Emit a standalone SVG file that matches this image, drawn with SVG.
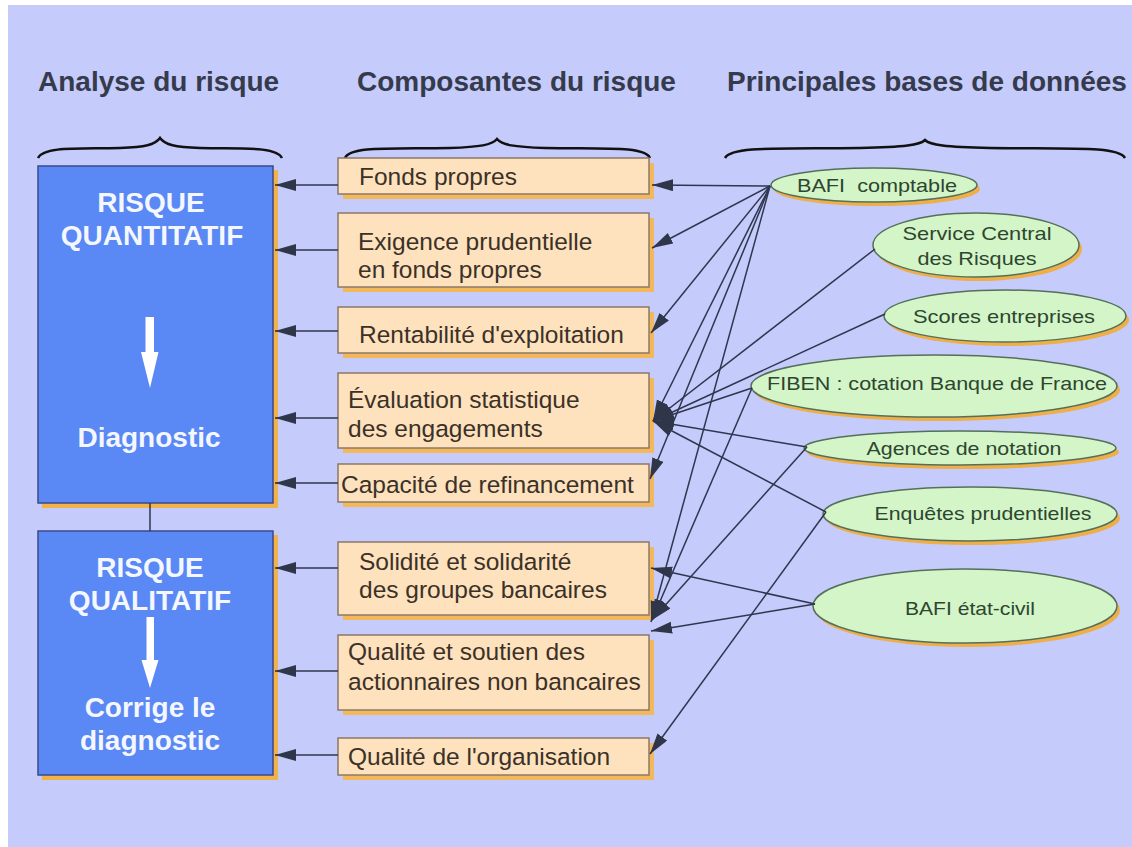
<svg xmlns="http://www.w3.org/2000/svg" width="1132" height="847" viewBox="0 0 1132 847">
<defs>
<marker id="ah" markerWidth="22" markerHeight="14" refX="21" refY="6" orient="auto" markerUnits="userSpaceOnUse">
<path d="M0,0 L21,6 L0,12 Z" fill="#30364a"/>
</marker>
<style>
.hdr{font-family:"Liberation Sans",Arial,sans-serif;font-weight:bold;font-size:28px;fill:#353b4d}
.brace{fill:none;stroke:#111;stroke-width:2.5}
.blue{fill:#5a88f4;stroke:#3b4a8a;stroke-width:1.5}
.bshadow{fill:#f2b24a}
.btxt{font-family:"Liberation Sans",Arial,sans-serif;font-weight:bold;font-size:28px;fill:#f4f7ff;text-anchor:middle}
.warrow{fill:#ffffff}
.mbox{fill:#fde2bd;stroke:#8d7868;stroke-width:1.5}
.mshadow{fill:#f2b85a}
.mtxt{font-family:"Liberation Sans",Arial,sans-serif;font-size:24.5px;fill:#3b3128}
.ell{fill:#d3f5c8;stroke:#55705a;stroke-width:1.5}
.eshadow{fill:#eeae48}
.etxt{font-family:"Liberation Sans",Arial,sans-serif;font-size:19px;fill:#2e452f;text-anchor:middle}
.conn{stroke:#30364f;stroke-width:1.5;fill:none}
.conn-a{stroke:#30364f;stroke-width:1.5;fill:none;marker-end:url(#ah)}
</style>
</defs>
<rect x="0" y="0" width="1132" height="847" fill="#ffffff"/>
<rect x="8" y="5" width="1124" height="842" fill="#c5cbfa"/>

<g id="headers">
<text class="hdr" x="38" y="91">Analyse du risque</text>
<text class="hdr" x="357" y="91">Composantes du risque</text>
<text class="hdr" x="727" y="91">Principales bases de données</text>
</g>

<g id="braces">
<path class="brace" d="M38,158 C44,146 80,149 120,148 C145,147 155,145 160,138 C165,145 175,147 200,148 C240,149 276,146 282,158"/>
<path class="brace" d="M345,158 C351,146 390,149 450,148 C480,147 492,145 497,139 C502,145 514,147 545,148 C605,149 644,146 650,158"/>
<path class="brace" d="M725,158 C732,146 780,149 860,148 C905,147 920,145 925,140 C930,145 945,147 990,148 C1070,149 1118,146 1125,158"/>
</g>

<g id="risque-quantitatif">
<rect class="bshadow" x="42" y="170" width="236" height="338"/>
<rect class="blue" x="38" y="166" width="235" height="337"/>
<text class="btxt" x="151" y="212">RISQUE</text>
<text class="btxt" x="152" y="245">QUANTITATIF</text>
<path class="warrow" d="M145.5,317 L154,317 L154,352 L158.5,352 L150,388 L141,352 L145.5,352 Z"/>
<text class="btxt" x="149" y="447">Diagnostic</text>
</g>

<g id="risque-qualitatif">
<rect class="bshadow" x="42" y="535" width="236" height="245"/>
<rect class="blue" x="38" y="531" width="235" height="244"/>
<text class="btxt" x="150" y="577">RISQUE</text>
<text class="btxt" x="150" y="610">QUALITATIF</text>
<path class="warrow" d="M146.5,617 L154,617 L154,660 L158.5,660 L150,688 L141.5,660 L146.5,660 Z"/>
<text class="btxt" x="150" y="717">Corrige le</text>
<text class="btxt" x="150" y="750">diagnostic</text>
</g>

<g id="n-fonds-propres">
<rect class="mshadow" x="343" y="163" width="311" height="36"/>
<rect class="mbox" x="338" y="158" width="311" height="36"/>
<text class="mtxt" x="359" y="185">Fonds propres</text>
</g>
<g id="n-exigence">
<rect class="mshadow" x="343" y="218" width="311" height="74"/>
<rect class="mbox" x="338" y="213" width="311" height="74"/>
<text class="mtxt" x="358" y="250">Exigence prudentielle</text>
<text class="mtxt" x="358" y="278">en fonds propres</text>
</g>
<g id="n-rentabilite">
<rect class="mshadow" x="343" y="312" width="311" height="46"/>
<rect class="mbox" x="338" y="307" width="311" height="46"/>
<text class="mtxt" x="359" y="343">Rentabilité d'exploitation</text>
</g>
<g id="n-evaluation">
<rect class="mshadow" x="343" y="378" width="311" height="75"/>
<rect class="mbox" x="338" y="373" width="311" height="75"/>
<text class="mtxt" x="348" y="408">Évaluation statistique</text>
<text class="mtxt" x="348" y="437">des engagements</text>
</g>
<g id="n-capacite">
<rect class="mshadow" x="343" y="469" width="311" height="38"/>
<rect class="mbox" x="338" y="464" width="311" height="38"/>
<text class="mtxt" x="341" y="493">Capacité de refinancement</text>
</g>
<g id="n-solidite">
<rect class="mshadow" x="343" y="547" width="311" height="73"/>
<rect class="mbox" x="338" y="542" width="311" height="73"/>
<text class="mtxt" x="359" y="570">Solidité et solidarité</text>
<text class="mtxt" x="359" y="598">des groupes bancaires</text>
</g>
<g id="n-qualite-soutien">
<rect class="mshadow" x="343" y="640" width="311" height="75"/>
<rect class="mbox" x="338" y="635" width="311" height="75"/>
<text class="mtxt" x="348" y="660">Qualité et soutien des</text>
<text class="mtxt" x="348" y="690">actionnaires non bancaires</text>
</g>
<g id="n-qualite-org">
<rect class="mshadow" x="343" y="743" width="311" height="37"/>
<rect class="mbox" x="338" y="738" width="311" height="37"/>
<text class="mtxt" x="348" y="765">Qualité de l'organisation</text>
</g>

<g id="e-bafi-comptable">
<ellipse class="eshadow" cx="877" cy="189" rx="103" ry="17"/>
<ellipse class="ell" cx="874" cy="185" rx="103" ry="17"/>
<text class="etxt" x="877" y="192" textLength="160" lengthAdjust="spacingAndGlyphs" xml:space="preserve">BAFI  comptable</text>
</g>
<g id="e-service-central">
<ellipse class="eshadow" cx="979" cy="249" rx="103" ry="32"/>
<ellipse class="ell" cx="976" cy="245" rx="103" ry="32"/>
<text class="etxt" x="977" y="240" textLength="149" lengthAdjust="spacingAndGlyphs">Service Central</text>
<text class="etxt" x="977" y="265" textLength="119" lengthAdjust="spacingAndGlyphs">des Risques</text>
</g>
<g id="e-scores">
<ellipse class="eshadow" cx="1008" cy="320" rx="121" ry="26"/>
<ellipse class="ell" cx="1005" cy="316" rx="121" ry="26"/>
<text class="etxt" x="1004" y="323" textLength="182" lengthAdjust="spacingAndGlyphs">Scores entreprises</text>
</g>
<g id="e-fiben">
<ellipse class="eshadow" cx="937" cy="390" rx="183" ry="31"/>
<ellipse class="ell" cx="934" cy="386" rx="183" ry="31"/>
<text class="etxt" x="937" y="390" textLength="340" lengthAdjust="spacingAndGlyphs">FIBEN : cotation Banque de France</text>
</g>
<g id="e-agences">
<ellipse class="eshadow" cx="963" cy="452" rx="156" ry="17"/>
<ellipse class="ell" cx="960" cy="448" rx="156" ry="17"/>
<text class="etxt" x="964" y="455" textLength="195" lengthAdjust="spacingAndGlyphs">Agences de notation</text>
</g>
<g id="e-enquetes">
<ellipse class="eshadow" cx="973" cy="518" rx="147" ry="27"/>
<ellipse class="ell" cx="970" cy="514" rx="147" ry="27"/>
<text class="etxt" x="983" y="520" textLength="217" lengthAdjust="spacingAndGlyphs">Enquêtes prudentielles</text>
</g>
<g id="e-bafi-etat-civil">
<ellipse class="eshadow" cx="968" cy="610" rx="152" ry="37"/>
<ellipse class="ell" cx="965" cy="606" rx="152" ry="37"/>
<text class="etxt" x="970" y="615" textLength="130" lengthAdjust="spacingAndGlyphs">BAFI état-civil</text>
</g>

<g id="connectors">
<line class="conn" x1="150" y1="503" x2="150" y2="531"/>
<line class="conn-a" x1="338" y1="185" x2="275" y2="185"/>
<line class="conn-a" x1="338" y1="250" x2="275" y2="250"/>
<line class="conn-a" x1="338" y1="331" x2="275" y2="331"/>
<line class="conn-a" x1="338" y1="418" x2="275" y2="418"/>
<line class="conn-a" x1="338" y1="483" x2="275" y2="483"/>
<line class="conn-a" x1="338" y1="568" x2="275" y2="568"/>
<line class="conn-a" x1="338" y1="671" x2="275" y2="671"/>
<line class="conn-a" x1="338" y1="755" x2="275" y2="755"/>

<line class="conn-a" x1="770" y1="186" x2="652" y2="185"/>
<line class="conn-a" x1="770" y1="186" x2="652" y2="248"/>
<line class="conn-a" x1="770" y1="186" x2="651" y2="333"/>
<line class="conn-a" x1="770" y1="186" x2="653" y2="421"/>
<line class="conn-a" x1="770" y1="186" x2="650" y2="479"/>
<line class="conn-a" x1="770" y1="186" x2="651" y2="622"/>
<line class="conn-a" x1="875" y1="249" x2="653" y2="421"/>
<line class="conn-a" x1="885" y1="314" x2="653" y2="421"/>
<line class="conn-a" x1="752" y1="388" x2="653" y2="421"/>
<line class="conn-a" x1="752" y1="388" x2="652" y2="620"/>
<line class="conn-a" x1="807" y1="447" x2="653" y2="421"/>
<line class="conn-a" x1="807" y1="447" x2="652" y2="620"/>
<line class="conn-a" x1="826" y1="512" x2="653" y2="421"/>
<line class="conn-a" x1="826" y1="512" x2="650" y2="754"/>
<line class="conn-a" x1="815" y1="604" x2="651" y2="568"/>
<line class="conn-a" x1="815" y1="604" x2="651" y2="631"/>
</g>
</svg>
